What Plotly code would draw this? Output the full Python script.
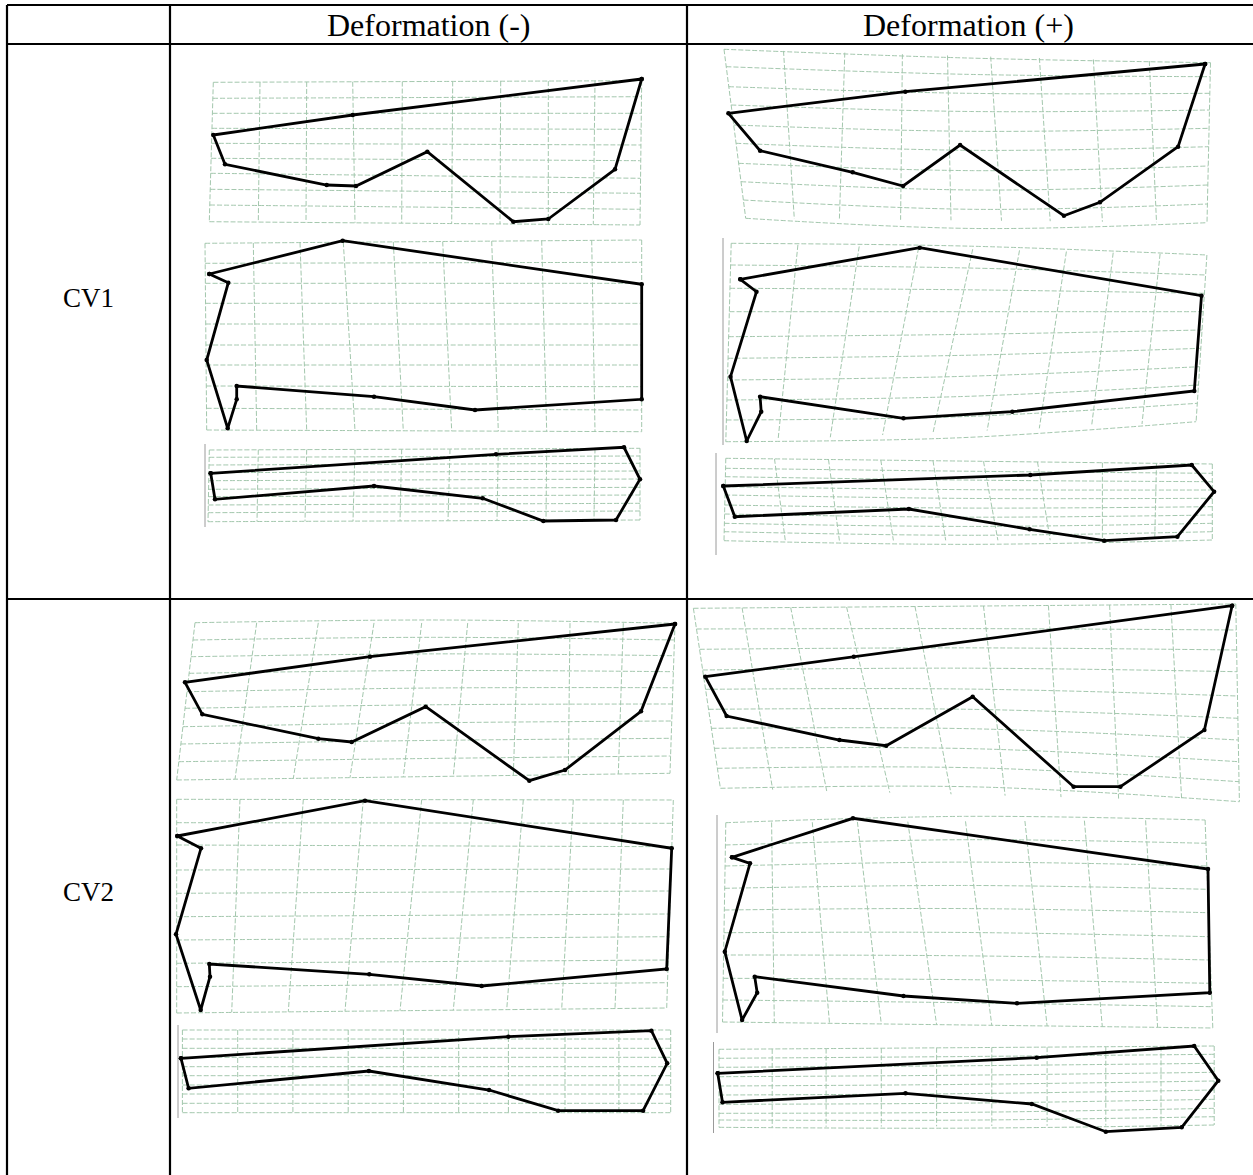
import plotly.graph_objects as go

# ---------------- header / labels ----------------
col_titles = ["Deformation (-)", "Deformation (+)"]
row_titles = ["CV1", "CV2"]

# ---------------- outlines (pixel space of the table) ----------------
A1_x = [641.7, 352.7, 213.3, 225, 326.7, 356, 427.3, 513.3, 548.3, 615]
A1_y = [79, 115, 135, 164.3, 185, 186, 151.7, 221.7, 219, 169.3]
A2_x = [209.3, 342.7, 641.7, 641.7, 475, 374, 236.7, 236.7, 227.7, 206.7, 228.3]
A2_y = [274, 240.7, 284.3, 399.3, 410, 396.7, 386, 399.3, 428.3, 360, 282.7]
A3_x = [210.7, 496, 624, 640, 616, 543.3, 482.7, 374, 215]
A3_y = [473.3, 454.3, 447.3, 479.3, 520, 521, 498.3, 486, 499.3]

B1_x = [1205.1, 905.3, 728.4, 760.1, 852.7, 903.1, 960.1, 1063.9, 1099.9, 1178.1]
B1_y = [64, 91.7, 113.3, 150.7, 172.3, 186, 145, 215.7, 202.3, 146.7]
B2_x = [740.3, 919.7, 1201.5, 1194.3, 1012.3, 903.5, 760.1, 761.2, 746.7, 730.5, 756.5]
B2_y = [279.3, 247.7, 295.7, 391, 411.7, 418.3, 396.7, 411.7, 441, 376.7, 291.7]
B3_x = [723.3, 1030.3, 1191.8, 1214.1, 1177.4, 1104.2, 1029.6, 908.9, 734.8]
B3_y = [486, 475, 465, 491.7, 536.7, 540.7, 529.3, 509, 516.7]

C1_x = [675, 370, 185, 202.3, 318.3, 351.7, 425.7, 529.3, 565, 641]
C1_y = [624, 656.7, 682.3, 714.3, 738.7, 742, 706.7, 780.7, 770, 711.3]
C2_x = [177.3, 365, 671.7, 666.7, 481.7, 369.3, 209.3, 210, 200.7, 176, 201]
C2_y = [836, 800.7, 848.3, 969, 986, 974.3, 964, 976.7, 1010, 934.3, 848.3]
C3_x = [181, 508.4, 651.4, 667.2, 643.1, 558.1, 489.1, 368.9, 188.6]
C3_y = [1058.3, 1036.7, 1030.7, 1063.3, 1110.7, 1110.7, 1090, 1071, 1088.3]

D1_x = [1232.1, 853.8, 705.3, 726.6, 839.4, 886.2, 972.7, 1073.6, 1120.4, 1204.4]
D1_y = [605.7, 656.7, 676.7, 716, 740, 745.7, 696.7, 786.7, 786.7, 730]
D2_x = [732, 853, 1208, 1209.8, 1017, 903.5, 754.7, 757.2, 742.1, 724.8, 750]
D2_y = [857.3, 818.3, 869, 992.7, 1003.3, 996, 976.7, 992.7, 1020, 951.7, 863.3]
D3_x = [717.7, 1036.7, 1194.2, 1218.3, 1181.7, 1105.8, 1031.9, 905.5, 722.5]
D3_y = [1073.3, 1057.7, 1046, 1080.7, 1127.3, 1131.7, 1104, 1093.3, 1102.3]

# ---------------- deformation grids ----------------
# top_x / bot_x: x where each vertical grid line meets the top / bottom edge
# left_y / right_y: y where each horizontal grid line meets the left / right edge
A1_top_x = [213.3, 260, 306.7, 352.7, 402.3, 452.7, 500.7, 548.3, 595, 641.7]
A1_bot_x = [209.3, 258.3, 306, 355, 401.7, 451.7, 500, 548.3, 593.3, 640]
A1_left_y = [82.3, 98.3, 113.3, 128.3, 143.3, 158.3, 173.3, 189.3, 205, 221.7]
A1_right_y = [80.7, 96.7, 113.3, 129.3, 145, 160.7, 178.3, 193.3, 209.3, 225]

A2_top_x = [205, 253.3, 300, 343.3, 393.3, 442.7, 491.7, 541.7, 591.7, 641.7]
A2_bot_x = [206.7, 256.7, 306.7, 355, 403.3, 451.7, 498.3, 546.7, 595, 641.7]
A2_left_y = [243.3, 263.3, 283.3, 303.3, 324, 345, 365, 386, 408.3, 430]
A2_right_y = [240, 262.3, 283.3, 303.3, 324, 345, 365, 386.7, 410, 431.7]

A3_top_x = [209.3, 258.3, 306.7, 355, 401.7, 450, 498.3, 546.7, 595, 640]
A3_bot_x = [208, 257, 305, 353, 400, 448, 497, 546, 594, 640]
A3_left_y = [450, 457.3, 465, 472.7, 480.7, 489.3, 496.7, 505, 512.7, 521.7]
A3_right_y = [448.3, 456, 463.3, 471, 479, 487.3, 495, 503.3, 511, 520]

B1_top_x = [724, 783.5, 844.8, 902.4, 947.5, 990.7, 1039.4, 1093.4, 1149.3, 1210.5]
B1_bot_x = [745.7, 794.3, 839.4, 900.6, 951, 1001.5, 1050.2, 1102.4, 1156.5, 1207]
B1_left_y = [49.3, 66.7, 86.7, 105, 125, 143.3, 163.3, 181.7, 200, 218.3]
B1_right_y = [62.7, 76.7, 93.3, 110, 128.3, 146.7, 166, 185, 204, 222.7]

B2_top_x = [731.2, 797.9, 859.2, 918.6, 972.7, 1019.5, 1066.4, 1113.2, 1160.1, 1206.9]
B2_bot_x = [725.8, 778.1, 830.3, 882.6, 933, 987.1, 1039.3, 1091.6, 1142, 1196.1]
B2_left_y = [243.3, 265, 288.3, 311.7, 336.7, 358.3, 380, 400, 420, 441.7]
B2_right_y = [255, 275, 293.3, 311.7, 330, 348.3, 366.7, 385, 403.3, 421.7]

B3_top_x = [725.8, 774.5, 828.5, 880.8, 933, 983.5, 1037.5, 1102.4, 1156.5, 1212.3]
B3_bot_x = [724, 785.3, 839.4, 893.4, 945.7, 997.9, 1050.2, 1102.4, 1154.7, 1212.3]
B3_left_y = [458.3, 468.3, 476.7, 486.7, 495, 505, 514, 523.3, 531.7, 540.7]
B3_right_y = [464, 473.3, 481.7, 490, 498.3, 506.7, 515, 523.3, 531.7, 540]

C1_top_x = [195, 256.7, 318.3, 374, 421.7, 467.7, 518.3, 570, 623.3, 675]
C1_bot_x = [176.7, 235, 293.3, 350, 403.3, 453.3, 513.3, 568.3, 618.3, 670]
C1_left_y = [622.7, 640, 656.7, 673.3, 691.7, 708.3, 726.7, 744, 761.7, 780]
C1_right_y = [623.3, 640, 655.7, 671.7, 687.7, 704, 721, 738.3, 756, 773.3]

C2_top_x = [176.7, 240, 303.3, 363.3, 421.7, 473.3, 523.3, 573.3, 623.3, 673.3]
C2_bot_x = [176.7, 231.7, 288.3, 345, 400, 453.3, 506.7, 561.7, 615, 666.7]
C2_left_y = [799.3, 822.7, 845, 870, 893.3, 916.7, 940, 963.3, 986.7, 1013]
C2_right_y = [800, 823.3, 846.7, 869, 891, 914, 936.7, 960, 982.7, 1008]

C3_top_x = [182.4, 237.7, 292.9, 348.2, 403.4, 458.7, 508.4, 565, 618.9, 670.7]
C3_bot_x = [182.4, 237.7, 292.9, 348.2, 403.4, 458.7, 508.4, 565, 618.9, 670.7]
C3_left_y = [1030, 1039, 1048.3, 1057.3, 1066.7, 1075.7, 1085, 1094, 1103.3, 1112.7]
C3_right_y = [1030, 1039, 1048.3, 1057.3, 1066.7, 1075.7, 1085, 1094, 1103.3, 1112.7]

D1_top_x = [693.4, 742.1, 790.7, 846.6, 915, 983.5, 1048.4, 1109.6, 1170.9, 1235.8]
D1_bot_x = [720.4, 772.7, 826.7, 889.8, 951.1, 1005.1, 1061, 1118.6, 1181.7, 1239.4]
D1_left_y = [608.3, 629, 649.3, 670, 689.3, 709.3, 728.3, 748.3, 768.3, 788.3]
D1_right_y = [604, 630, 650, 671.7, 696, 718.3, 740, 761.7, 781.7, 801.7]

D2_top_x = [725.8, 771.6, 812.3, 857.4, 907.8, 965.5, 1024.9, 1084.4, 1145.6, 1205.1]
D2_bot_x = [722.5, 774.3, 829.5, 881.3, 936.6, 991.8, 1047.1, 1102.3, 1157.6, 1212.8]
D2_left_y = [822.7, 845, 866, 888.3, 910, 932.7, 955, 978.3, 1000, 1022]
D2_right_y = [820, 843.3, 866, 889.3, 912.7, 936.7, 960, 983.3, 1006.7, 1028]

D3_top_x = [719, 772.2, 826.1, 881.3, 936.6, 991.8, 1047.1, 1105.8, 1161, 1214.2]
D3_bot_x = [719, 772.2, 826.1, 881.3, 936.6, 991.8, 1047.1, 1105.8, 1161, 1214.2]
D3_left_y = [1049.3, 1058.3, 1067.3, 1076.7, 1086, 1095, 1104.3, 1113.3, 1120, 1127.3]
D3_right_y = [1046, 1054.3, 1063.3, 1072.3, 1081, 1090, 1099.3, 1108.3, 1116.7, 1125]

# bow of horizontal grid lines at their middle (top line, bottom line), px
A_sag = [0, 0]
B1_sag = [2, 8]
B2_sag = [-3, 6]
B3_sag = [0, 4]
C1_sag = [-3, 0]
C2_sag = [0, 0]
C3_sag = [0, 0]
D1_sag = [0, -8]
D2_sag = [-5, 0]
D3_sag = [0, 2]

# thin grey edges of the pasted images
edge_x = [205, 723, 716, 178, 717, 713.5]
edge_y0 = [444, 238, 453, 1025, 815, 1042]
edge_y1 = [527, 445, 555, 1118, 1033, 1133]

panels = [
    (A1_x, A1_y, A1_top_x, A1_bot_x, A1_left_y, A1_right_y, A_sag),
    (A2_x, A2_y, A2_top_x, A2_bot_x, A2_left_y, A2_right_y, A_sag),
    (A3_x, A3_y, A3_top_x, A3_bot_x, A3_left_y, A3_right_y, A_sag),
    (B1_x, B1_y, B1_top_x, B1_bot_x, B1_left_y, B1_right_y, B1_sag),
    (B2_x, B2_y, B2_top_x, B2_bot_x, B2_left_y, B2_right_y, B2_sag),
    (B3_x, B3_y, B3_top_x, B3_bot_x, B3_left_y, B3_right_y, B3_sag),
    (C1_x, C1_y, C1_top_x, C1_bot_x, C1_left_y, C1_right_y, C1_sag),
    (C2_x, C2_y, C2_top_x, C2_bot_x, C2_left_y, C2_right_y, C2_sag),
    (C3_x, C3_y, C3_top_x, C3_bot_x, C3_left_y, C3_right_y, C3_sag),
    (D1_x, D1_y, D1_top_x, D1_bot_x, D1_left_y, D1_right_y, D1_sag),
    (D2_x, D2_y, D2_top_x, D2_bot_x, D2_left_y, D2_right_y, D2_sag),
    (D3_x, D3_y, D3_top_x, D3_bot_x, D3_left_y, D3_right_y, D3_sag),
]

W, H = 1253, 1175
GRID_COLOR = "#a3c7ad"

fig = go.Figure()


def lerp(a, b, t):
    return a + (b - a) * t


for (ox, oy, tx, bx, ly, ry, sag) in panels:
    tl = (tx[0], ly[0]); tr = (tx[-1], ry[0])
    bl = (bx[0], ly[-1]); br = (bx[-1], ry[-1])
    vx, vy = [], []
    for i in range(len(tx)):
        ft = (tx[i] - tl[0]) / (tr[0] - tl[0])
        fb = (bx[i] - bl[0]) / (br[0] - bl[0])
        vx += [tx[i], bx[i], None]
        vy += [lerp(tl[1], tr[1], ft), lerp(bl[1], br[1], fb), None]
    fig.add_trace(go.Scatter(x=vx, y=vy, mode="lines", hoverinfo="skip",
                             line=dict(color=GRID_COLOR, width=1, dash="5px,2px")))
    hx, hy = [], []
    m = len(ly)
    for j in range(m):
        fl = (ly[j] - tl[1]) / (bl[1] - tl[1])
        fr = (ry[j] - tr[1]) / (br[1] - tr[1])
        lx = lerp(tl[0], bl[0], fl)
        rx = lerp(tr[0], br[0], fr)
        s = lerp(sag[0], sag[1], j / (m - 1))
        hx += [lx, (lx + rx) / 2, rx, None]
        hy += [ly[j], (ly[j] + ry[j]) / 2 + s, ry[j], None]
    fig.add_trace(go.Scatter(x=hx, y=hy, mode="lines", hoverinfo="skip",
                             line=dict(color=GRID_COLOR, width=1, dash="5px,2px", shape="spline")))
    fig.add_trace(go.Scatter(x=list(ox) + [ox[0]], y=list(oy) + [oy[0]],
                             mode="lines+markers", hoverinfo="skip",
                             line=dict(color="black", width=2.8),
                             marker=dict(color="black", size=4.5)))

for ex, e0, e1 in zip(edge_x, edge_y0, edge_y1):
    fig.add_shape(type="line", x0=ex, x1=ex, y0=e0, y1=e1,
                  line=dict(color="#9a9a9a", width=1), layer="below")

# ---------------- table rules ----------------
table_lines = [
    (7, 5, 1253, 5), (7, 44, 1253, 44), (7, 599, 1253, 599),
    (7, 5, 7, 1175), (170, 5, 170, 1175), (687, 5, 687, 1175),
]
for x0, y0, x1, y1 in table_lines:
    fig.add_shape(type="line", x0=x0, y0=y0, x1=x1, y1=y1,
                  line=dict(color="black", width=2.2), layer="above")

HEAD_FONT = dict(family="Liberation Serif, Times New Roman, serif", size=32, color="black")
ROW_FONT = dict(family="Liberation Serif, Times New Roman, serif", size=27, color="black")
for t, cx in zip(col_titles, [428, 968]):
    fig.add_annotation(x=cx, y=25, text=t, showarrow=False, font=HEAD_FONT,
                       xanchor="center", yanchor="middle")
for t, cy in zip(row_titles, [298, 892]):
    fig.add_annotation(x=88, y=cy, text=t, showarrow=False, font=ROW_FONT,
                       xanchor="center", yanchor="middle")

fig.update_layout(
    width=W, height=H, margin=dict(l=0, r=0, t=0, b=0),
    paper_bgcolor="white", plot_bgcolor="white", showlegend=False,
    xaxis=dict(range=[0, W], visible=False, fixedrange=True),
    yaxis=dict(range=[H, 0], visible=False, fixedrange=True),
)
fig.write_html("out.html")
